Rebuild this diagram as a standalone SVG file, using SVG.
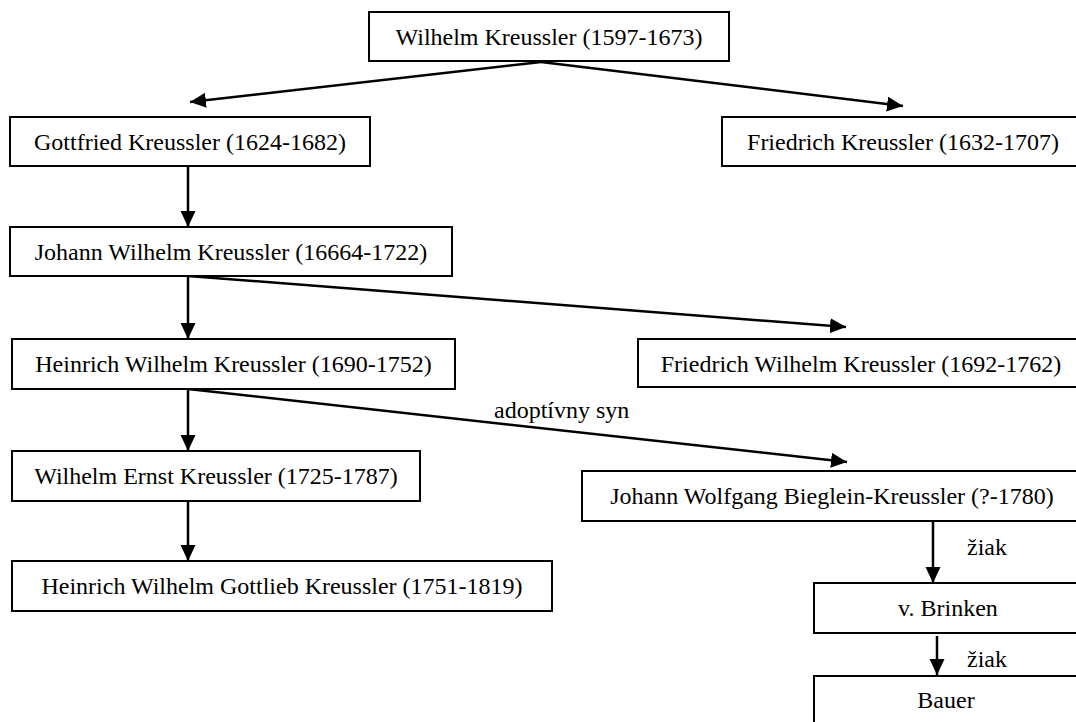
<svg xmlns="http://www.w3.org/2000/svg" width="1076" height="722" viewBox="0 0 1076 722">
<style>
.box{fill:#fff;stroke:#000;stroke-width:2}
.t{font-family:"Liberation Serif","Times New Roman",serif;font-size:24px;fill:#000}
.c{text-anchor:middle}
.ln{stroke:#000;stroke-width:2.5;fill:none;marker-end:url(#ah)}
</style>
<defs>
<marker id="ah" markerUnits="userSpaceOnUse" markerWidth="18" markerHeight="16" refX="16" refY="7.5" orient="auto" viewBox="0 0 18 16">
<path d="M0,0 L16,7.5 L0,15 Z" fill="#000"/>
</marker>
</defs>
<rect width="1076" height="722" fill="#fff"/>
<g id="connectors">
<line class="ln" x1="541" y1="62" x2="190" y2="102"/>
<line class="ln" x1="541" y1="62" x2="903" y2="106"/>
<line class="ln" x1="188" y1="166" x2="188" y2="227"/>
<line class="ln" x1="188" y1="276" x2="188" y2="339"/>
<line class="ln" x1="188" y1="276" x2="846" y2="327"/>
<line class="ln" x1="188" y1="389" x2="188" y2="451"/>
<line class="ln" x1="188" y1="389" x2="847" y2="462"/>
<line class="ln" x1="188" y1="501" x2="188" y2="561"/>
<line class="ln" x1="933" y1="521" x2="933" y2="583"/>
<line class="ln" x1="937" y1="636" x2="937" y2="675"/>
<text class="t" x="494" y="418">adoptívny syn</text>
<text class="t" x="967" y="555">žiak</text>
<text class="t" x="967" y="667">žiak</text>
</g>
<g id="n1"><rect class="box" x="369" y="12" width="360" height="49"/><text class="t c" x="549" y="45">Wilhelm Kreussler (1597-1673)</text></g>
<g id="n2"><rect class="box" x="10" y="117" width="360" height="49"/><text class="t c" x="190" y="150">Gottfried Kreussler (1624-1682)</text></g>
<g id="n3"><rect class="box" x="722" y="117" width="362" height="49"/><text class="t c" x="903" y="150">Friedrich Kreussler (1632-1707)</text></g>
<g id="n4"><rect class="box" x="10" y="227" width="442" height="49"/><text class="t c" x="231" y="260">Johann Wilhelm Kreussler (16664-1722)</text></g>
<g id="n5"><rect class="box" x="12" y="339" width="443" height="50"/><text class="t c" x="233.5" y="372">Heinrich Wilhelm Kreussler (1690-1752)</text></g>
<g id="n6"><rect class="box" x="638" y="339" width="446" height="48"/><text class="t c" x="861" y="372">Friedrich Wilhelm Kreussler (1692-1762)</text></g>
<g id="n7"><rect class="box" x="12" y="451" width="408" height="50"/><text class="t c" x="216" y="484">Wilhelm Ernst Kreussler (1725-1787)</text></g>
<g id="n8"><rect class="box" x="582" y="471" width="500" height="50"/><text class="t c" x="832" y="504">Johann Wolfgang Bieglein-Kreussler (?-1780)</text></g>
<g id="n9"><rect class="box" x="12" y="561" width="540" height="50"/><text class="t c" x="282" y="594">Heinrich Wilhelm Gottlieb Kreussler (1751-1819)</text></g>
<g id="n10"><rect class="box" x="814" y="583" width="268" height="50"/><text class="t c" x="948" y="616">v. Brinken</text></g>
<g id="n11"><rect class="box" x="814" y="676" width="268" height="60"/><text class="t c" x="946" y="708">Bauer</text></g>
</svg>
